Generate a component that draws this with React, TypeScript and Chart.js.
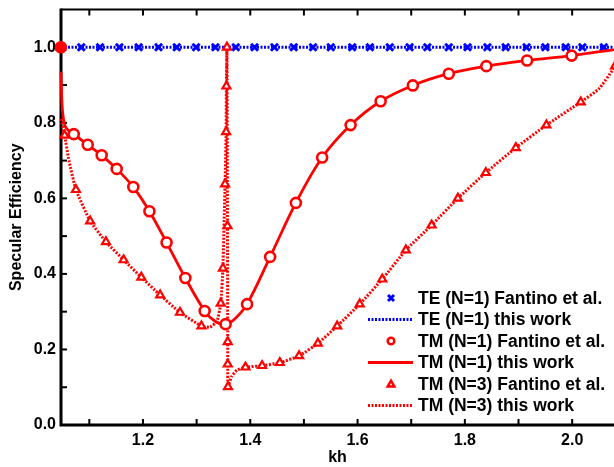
import React, { useEffect, useRef } from "react";
import { Chart, registerables } from "chart.js";

Chart.register(...registerables);

// ---------- data ----------
const xMin = 1.0472;
const xMax = 2.078;
const yMin = 0;
const yMax = 1.1;

const teMarkX = [1.047, 1.085, 1.120, 1.156, 1.192, 1.229, 1.263, 1.299, 1.335, 1.373, 1.408, 1.445, 1.481, 1.517, 1.550, 1.590, 1.623, 1.660, 1.697, 1.730, 1.770, 1.805, 1.842, 1.876, 1.915, 1.950, 1.988, 2.019, 2.059];
const teMarkY = [1.0, 1.0, 1.0, 1.0, 1.0, 1.0, 1.0, 1.0, 1.0, 1.0, 1.0, 1.0, 1.0, 1.0, 1.0, 1.0, 1.0, 1.0, 1.0, 1.0, 1.0, 1.0, 1.0, 1.0, 1.0, 1.0, 1.0, 1.0, 1.0];

const teLineX = [1.0472, 2.078];
const teLineY = [1.0, 1.0];

const tm1MarkX = [1.047, 1.071, 1.097, 1.123, 1.151, 1.182, 1.212, 1.244, 1.279, 1.315, 1.354, 1.394, 1.437, 1.485, 1.534, 1.587, 1.643, 1.703, 1.770, 1.840, 1.916, 1.999];
const tm1MarkY = [1.0, 0.770, 0.742, 0.714, 0.678, 0.630, 0.566, 0.483, 0.389, 0.302, 0.267, 0.320, 0.445, 0.588, 0.708, 0.794, 0.857, 0.899, 0.930, 0.950, 0.965, 0.978];

const tm1LineX = [1.0472, 1.0485, 1.0505, 1.056, 1.071, 1.097, 1.123, 1.151, 1.182, 1.212, 1.244, 1.279, 1.315, 1.335, 1.354, 1.372, 1.394, 1.437, 1.485, 1.534, 1.587, 1.643, 1.703, 1.770, 1.840, 1.916, 1.999, 2.078];
const tm1LineY = [0.935, 0.870, 0.825, 0.788, 0.770, 0.742, 0.714, 0.678, 0.630, 0.566, 0.483, 0.389, 0.302, 0.274, 0.266, 0.282, 0.320, 0.445, 0.588, 0.708, 0.794, 0.857, 0.899, 0.930, 0.950, 0.965, 0.978, 0.994];

const tm3MarkX = [1.047, 1.054, 1.075, 1.1015, 1.131, 1.164, 1.197, 1.232, 1.269, 1.309, 1.345, 1.349, 1.353, 1.355, 1.3555, 1.3565, 1.3575, 1.358, 1.358, 1.3585, 1.391, 1.422, 1.455, 1.491, 1.526, 1.562, 1.604, 1.646, 1.690, 1.738, 1.787, 1.839, 1.895, 1.952, 2.016, 2.080];
const tm3MarkY = [1.0, 0.767, 0.623, 0.540, 0.485, 0.437, 0.391, 0.344, 0.298, 0.262, 0.322, 0.415, 0.638, 0.776, 0.897, 1.0, 0.527, 0.220, 0.161, 0.101, 0.153, 0.157, 0.165, 0.183, 0.216, 0.262, 0.320, 0.386, 0.463, 0.529, 0.600, 0.668, 0.734, 0.794, 0.855, 0.950];

const tm3LineX = [1.0472, 1.054, 1.062, 1.075, 1.1015, 1.131, 1.164, 1.197, 1.232, 1.269, 1.309, 1.325, 1.338, 1.345, 1.349, 1.353, 1.355, 1.3555, 1.3565, 1.3575, 1.358, 1.358, 1.3585, 1.365, 1.375, 1.391, 1.422, 1.455, 1.491, 1.526, 1.562, 1.604, 1.646, 1.690, 1.738, 1.787, 1.839, 1.895, 1.952, 2.016, 2.050, 2.078];
const tm3LineY = [0.810, 0.767, 0.700, 0.623, 0.540, 0.485, 0.437, 0.391, 0.344, 0.298, 0.262, 0.259, 0.275, 0.322, 0.415, 0.638, 0.776, 0.897, 1.0, 0.527, 0.220, 0.161, 0.101, 0.128, 0.145, 0.153, 0.157, 0.165, 0.183, 0.216, 0.262, 0.320, 0.386, 0.463, 0.529, 0.600, 0.668, 0.734, 0.794, 0.855, 0.890, 0.945];

const seriesLabels = [
  "TE (N=1) Fantino et al.",
  "TE (N=1) this work",
  "TM (N=1) Fantino et al.",
  "TM (N=1) this work",
  "TM (N=3) Fantino et al.",
  "TM (N=3) this work",
];

const xTitle = "kh";
const yTitle = "Specular Efficiency";

// ---------- helpers ----------
const FONT = "'Liberation Sans', Arial, Helvetica, sans-serif";
const BLUE = "#0000ff";
const RED = "#ff0000";

const pts = (xs: number[], ys: number[]) => xs.map((x, i) => ({ x, y: ys[i] }));
// the marker sitting on the left axis (x at the range start) is drawn filled
const fills = (xs: number[]) => xs.map((x) => (x < xMin + 0.001 ? RED : "#fff"));

const axesPlugin = {
  id: "frameAxes",
  beforeDatasetsDraw(chart: any) {
    const { ctx, chartArea: a, scales } = chart;
    const xs = scales.x;
    const ys = scales.y;
    ctx.save();
    ctx.strokeStyle = "#000";
    ctx.lineCap = "butt";
    ctx.lineWidth = 2;
    xs.ticks.forEach((t: any) => {
      const px = xs.getPixelForValue(t.value);
      if (px < a.left + 2 || px > a.right - 1) return;
      ctx.beginPath();
      ctx.moveTo(px, a.bottom);
      ctx.lineTo(px, a.bottom - 6);
      ctx.moveTo(px, a.top);
      ctx.lineTo(px, a.top + 6);
      ctx.stroke();
    });
    ys.ticks.forEach((t: any) => {
      const py = ys.getPixelForValue(t.value);
      if (py > a.bottom - 2 || py < a.top + 2) return;
      ctx.beginPath();
      ctx.moveTo(a.left, py);
      ctx.lineTo(a.left + 6, py);
      ctx.stroke();
    });
    ctx.lineWidth = 3;
    ctx.beginPath();
    ctx.moveTo(a.left, a.top - 1);
    ctx.lineTo(a.left, a.bottom + 1.5);
    ctx.moveTo(a.left - 1.5, a.bottom);
    ctx.lineTo(a.right, a.bottom);
    ctx.stroke();
    ctx.lineWidth = 2;
    ctx.beginPath();
    ctx.moveTo(a.left, a.top);
    ctx.lineTo(a.right, a.top);
    ctx.stroke();
    ctx.restore();
  },
};

function drawMarker(ctx: CanvasRenderingContext2D, style: string, x: number, y: number, r: number) {
  ctx.beginPath();
  if (style === "crossRot") {
    ctx.moveTo(x - r, y - r);
    ctx.lineTo(x + r, y + r);
    ctx.moveTo(x + r, y - r);
    ctx.lineTo(x - r, y + r);
    ctx.stroke();
  } else if (style === "circle") {
    ctx.arc(x, y, r, 0, Math.PI * 2);
    ctx.fill();
    ctx.stroke();
  } else if (style === "triangle") {
    ctx.moveTo(x, y - r);
    ctx.lineTo(x + r, y + r * 0.75);
    ctx.lineTo(x - r, y + r * 0.75);
    ctx.closePath();
    ctx.fill();
    ctx.stroke();
  }
}

const legendPlugin = {
  id: "insideLegend",
  afterDraw(chart: any) {
    const { ctx } = chart;
    const order = [0, 1, 2, 3, 4, 5];
    const rowY0 = 298;
    const rowH = 21.5;
    ctx.save();
    order.forEach((k, i) => {
      const ds = chart.data.datasets.find((d: any) => d.legendIndex === k);
      if (!ds) return;
      const y = rowY0 + i * rowH;
      ctx.strokeStyle = ds.borderColor;
      ctx.fillStyle = "#fff";
      if (ds.showLine) {
        ctx.lineWidth = ds.borderWidth;
        ctx.setLineDash(ds.borderDash || []);
        ctx.beginPath();
        ctx.moveTo(368, y);
        ctx.lineTo(413, y);
        ctx.stroke();
        ctx.setLineDash([]);
      } else {
        ctx.lineWidth = ds.pointStyle === "crossRot" ? 3 : 2.5;
        drawMarker(ctx, ds.pointStyle, 391, y, ds.pointStyle === "crossRot" ? 3 : 3.3);
      }
      ctx.fillStyle = "#000";
      ctx.font = `bold 17.5px ${FONT}`;
      ctx.textAlign = "left";
      ctx.textBaseline = "middle";
      ctx.fillText(ds.label, 418, y + 1);
    });
    ctx.restore();
  },
};

const zeroPad = (s: any) => {
  s.paddingLeft = 0;
  s.paddingRight = 0;
  s.paddingTop = 0;
  s.paddingBottom = 0;
};

export default function App() {
  const canvasRef = useRef<HTMLCanvasElement | null>(null);

  useEffect(() => {
    if (!canvasRef.current) return;
    const chart = new Chart(canvasRef.current, {
      type: "scatter",
      data: {
        datasets: [
          {
            label: seriesLabels[2],
            legendIndex: 2,
            data: pts(tm1MarkX, tm1MarkY),
            showLine: false,
            pointStyle: "circle",
            pointRadius: 5,
            pointBorderWidth: 2.6,
            borderColor: RED,
            pointBorderColor: RED,
            pointBackgroundColor: fills(tm1MarkX),
            backgroundColor: "#fff",
            order: 1,
            clip: false,
          },
          {
            label: seriesLabels[4],
            legendIndex: 4,
            data: pts(tm3MarkX, tm3MarkY),
            showLine: false,
            pointStyle: "triangle",
            pointRadius: 4.6,
            pointBorderWidth: 2.2,
            borderColor: RED,
            pointBorderColor: RED,
            pointBackgroundColor: fills(tm3MarkX),
            backgroundColor: "#fff",
            order: 2,
            clip: false,
          },
          {
            label: seriesLabels[3],
            legendIndex: 3,
            data: pts(tm1LineX, tm1LineY),
            showLine: true,
            borderColor: RED,
            borderWidth: 2.8,
            pointRadius: 0,
            tension: 0.35,
            order: 3,
            clip: false,
          },
          {
            label: seriesLabels[5],
            legendIndex: 5,
            data: pts(tm3LineX, tm3LineY),
            showLine: true,
            borderColor: RED,
            borderWidth: 3,
            borderDash: [2, 1.5],
            pointRadius: 0,
            tension: 0.15,
            order: 4,
            clip: false,
          },
          {
            label: seriesLabels[0],
            legendIndex: 0,
            data: pts(teMarkX, teMarkY),
            showLine: false,
            pointStyle: "crossRot",
            pointRadius: 5,
            pointBorderWidth: 3,
            borderColor: BLUE,
            pointBorderColor: BLUE,
            order: 5,
            clip: false,
          },
          {
            label: seriesLabels[1],
            legendIndex: 1,
            data: pts(teLineX, teLineY),
            showLine: true,
            borderColor: BLUE,
            borderWidth: 3,
            borderDash: [2, 1.5],
            pointRadius: 0,
            order: 6,
            clip: false,
          },
        ] as any,
      },
      options: {
        animation: false,
        responsive: false,
        devicePixelRatio: 1,
        layout: { autoPadding: false, padding: { top: 9.5, right: 0, bottom: 0, left: 0 } },
        plugins: {
          legend: { display: false },
          tooltip: { enabled: false },
        },
        scales: {
          x: {
            type: "linear",
            min: xMin,
            max: xMax,
            grid: { display: false, drawTicks: false },
            border: { display: false },
            ticks: {
              stepSize: 0.1,
              includeBounds: false,
              autoSkip: false,
              maxRotation: 0,
              padding: 6,
              color: "#000",
              font: { family: FONT, size: 16, weight: "bold" },
              callback: (v: any) => {
                const n = Math.round(Number(v) * 10);
                return n % 2 === 0 ? (n / 10).toFixed(1) : "";
              },
            },
            title: {
              display: true,
              text: xTitle,
              color: "#000",
              font: { family: FONT, size: 16, weight: "bold" },
              padding: { top: 0, bottom: 0 },
            },
            afterFit: (s: any) => {
              s.height = 42;
              zeroPad(s);
            },
          },
          y: {
            type: "linear",
            min: yMin,
            max: yMax,
            grid: { display: false, drawTicks: false },
            border: { display: false },
            ticks: {
              stepSize: 0.1,
              autoSkip: false,
              padding: 5,
              color: "#000",
              font: { family: FONT, size: 16, weight: "bold" },
              callback: (v: any) => {
                const n = Math.round(Number(v) * 10);
                return n % 2 === 0 && n <= 10 ? (n / 10).toFixed(1) : "";
              },
            },
            title: {
              display: true,
              text: yTitle,
              color: "#000",
              font: { family: FONT, size: 16, weight: "bold" },
              padding: { top: 7, bottom: 0 },
            },
            afterFit: (s: any) => {
              s.width = 61;
              zeroPad(s);
            },
          },
        },
      } as any,
      plugins: [axesPlugin, legendPlugin],
    });
    return () => chart.destroy();
  }, []);

  return (
    <div style={{ position: "absolute", left: 0, top: 0, width: 614, height: 467, overflow: "hidden", background: "#fff" }}>
      <canvas ref={canvasRef} width={614} height={467} style={{ display: "block" }} />
    </div>
  );
}
